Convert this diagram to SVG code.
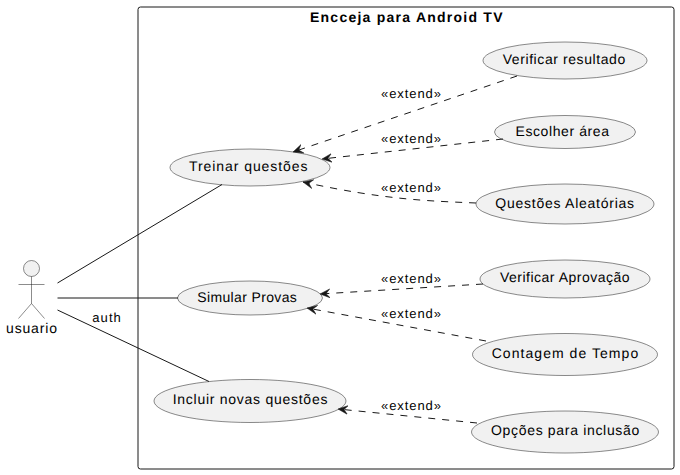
<svg xmlns="http://www.w3.org/2000/svg" width="680" height="475" viewBox="0 0 680 475">
<defs>
<marker id="arr" viewBox="0 0 10 10" refX="10" refY="5" markerWidth="10" markerHeight="10" markerUnits="userSpaceOnUse" orient="auto">
<path d="M0 0.500 L10 5 L0 9.500 L4 5 Z" fill="#181818" stroke="#181818" stroke-width="0.5"/>
</marker>
</defs>
<style>
text{font-family:"Liberation Sans",Arial,sans-serif;font-size:14px;fill:#000;text-rendering:geometricPrecision}
.l{font-size:13px}
.t{font-weight:bold}
ellipse{fill:#f1f1f1;stroke:#181818;stroke-width:0.5}
.c line,.c path{stroke:#181818;stroke-width:1;fill:none}
.d{stroke-dasharray:7,7}
</style>
<rect x="138" y="7" width="536" height="462" rx="2.5" ry="2.5" fill="#fff" stroke="#181818" stroke-width="1"/>
<text class="t" x="310" y="22" textLength="192.500">Encceja para Android TV</text>
<g id="usuario">
<circle cx="31.500" cy="268.500" r="8" fill="#f1f1f1" stroke="#181818" stroke-width="0.5"/>
<path d="M31.500 276.500 V303.500 M18.500 284.500 H44.500 M31.500 303.500 L18.500 318.500 M31.500 303.500 L44.500 318.500" fill="none" stroke="#181818" stroke-width="0.5"/>
<text x="6" y="333" textLength="51">usuario</text>
</g>
<g id="treinar"><ellipse cx="250" cy="167.500" rx="80" ry="18.500"/><text x="189" y="171" textLength="118.500">Treinar questões</text></g>
<g id="simular"><ellipse cx="250" cy="298" rx="72.500" ry="17"/><text x="197.300" y="302" textLength="99.500">Simular Provas</text></g>
<g id="incluir"><ellipse cx="250" cy="401" rx="96" ry="21.500"/><text x="172.700" y="404.300" textLength="154.700">Incluir novas questões</text></g>
<g id="verificar-resultado"><ellipse cx="565" cy="60.500" rx="82" ry="18.500"/><text x="502.700" y="64" textLength="122.500">Verificar resultado</text></g>
<g id="escolher"><ellipse cx="565" cy="132" rx="70.500" ry="16.500"/><text x="515.500" y="136" textLength="93.500">Escolher área</text></g>
<g id="aleatorias"><ellipse cx="565" cy="204" rx="89" ry="20"/><text x="495.300" y="207.500" textLength="138.800">Questões Aleatórias</text></g>
<g id="aprovacao"><ellipse cx="565" cy="279" rx="85" ry="19"/><text x="500" y="282.300" textLength="129.500">Verificar Aprovação</text></g>
<g id="contagem"><ellipse cx="565" cy="354.500" rx="92.500" ry="21"/><text x="491.700" y="358" textLength="146.500">Contagem de Tempo</text></g>
<g id="opcoes"><ellipse cx="565" cy="432" rx="93.500" ry="21"/><text x="491" y="435" textLength="148.300">Opções para inclusão</text></g>
<g class="c" id="connectors">
<line x1="57.500" y1="283" x2="222" y2="184.500"/>
<line x1="57.500" y1="298" x2="178" y2="298"/>
<line x1="57.500" y1="310" x2="209" y2="381.500"/>
<path class="d" d="M517 76 L293 152" marker-end="url(#arr)"/>
<path class="d" d="M503 139 L322 159" marker-end="url(#arr)"/>
<path class="d" d="M476 203 C430 201 385 200 303 182" marker-end="url(#arr)"/>
<path class="d" d="M483 284 L320 294" marker-end="url(#arr)"/>
<path class="d" d="M486 341 L307 308" marker-end="url(#arr)"/>
<path class="d" d="M477 423 L338 409" marker-end="url(#arr)"/>
<text class="l" x="92.300" y="322" textLength="28.500">auth</text>
<text class="l" x="381" y="98" textLength="60">«extend»</text>
<text class="l" x="381" y="143" textLength="60">«extend»</text>
<text class="l" x="381" y="192" textLength="60">«extend»</text>
<text class="l" x="381" y="283" textLength="60">«extend»</text>
<text class="l" x="381" y="318" textLength="60">«extend»</text>
<text class="l" x="381" y="410" textLength="60">«extend»</text>
</g>
</svg>
